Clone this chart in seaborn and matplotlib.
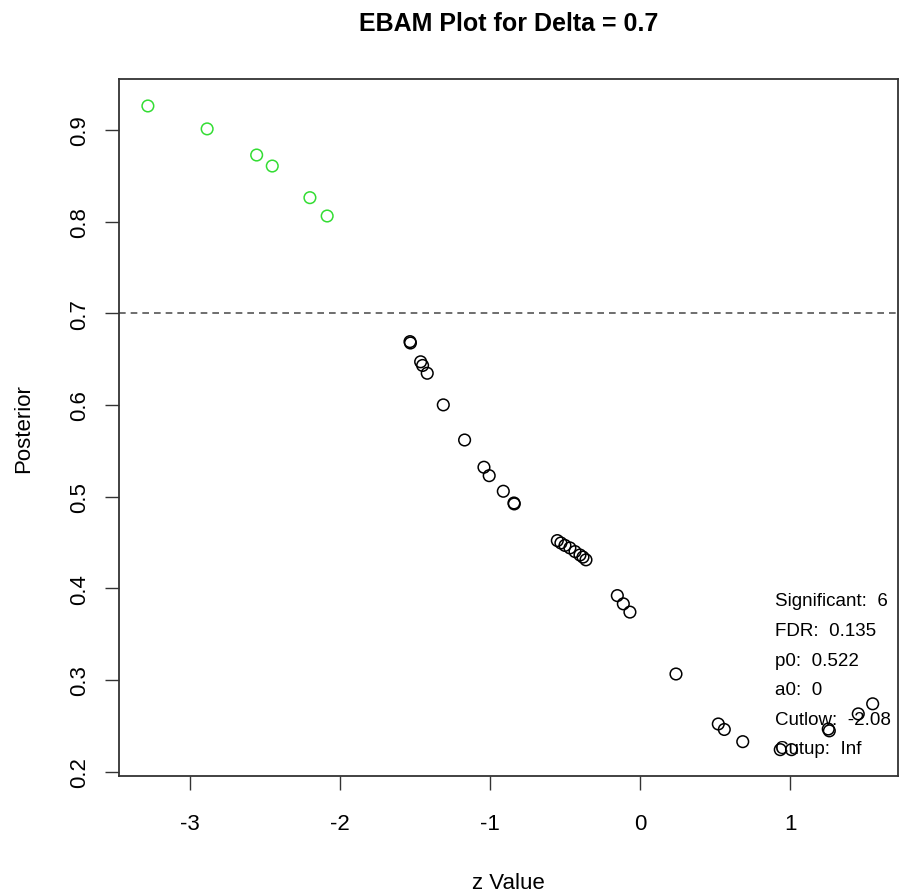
import numpy as np
import pandas as pd
import matplotlib
matplotlib.use("Agg")
import matplotlib.pyplot as plt
import seaborn as sns

# --- data ---
z_values = [-3.28, -2.885, -2.555, -2.451, -2.20, -2.085,
            -1.533, -1.530, -1.462, -1.449, -1.418, -1.311, -1.169, -1.040,
            -1.005, -0.911, -0.840, -0.838,
            -0.551, -0.527, -0.500, -0.467, -0.433, -0.400, -0.380, -0.360,
            -0.151, -0.111, -0.067, 0.240, 0.522, 0.562, 0.685,
            0.935, 1.010, 1.255, 1.262, 1.455, 1.551]
posterior = [0.926, 0.901, 0.8725, 0.8605, 0.826, 0.806,
             0.669, 0.6675, 0.647, 0.643, 0.6345, 0.600, 0.5617, 0.532,
             0.5228, 0.5058, 0.493, 0.492,
             0.452, 0.4494, 0.4467, 0.444, 0.440, 0.4363, 0.434, 0.431,
             0.392, 0.383, 0.374, 0.3065, 0.252, 0.246, 0.2327,
             0.224, 0.224, 0.2465, 0.2445, 0.263, 0.274]
delta = 0.7
info_labels = ["Significant:  6", "FDR:  0.135", "p0:  0.522",
               "a0:  0", "Cutlow:  -2.08", "Cutup:  Inf"]
x_ticks = [-3, -2, -1, 0, 1]
y_ticks = [0.2, 0.3, 0.4, 0.5, 0.6, 0.7, 0.8, 0.9]

df = pd.DataFrame({"z": z_values, "post": posterior})
df["sig"] = np.where(df["post"] > delta, "yes", "no")

sns.set_style("white")
plt.rcParams["font.family"] = ["Liberation Sans", "DejaVu Sans"]
plt.rcParams["text.color"] = "black"
plt.rcParams["axes.labelcolor"] = "black"
plt.rcParams["xtick.labelcolor"] = "black"
plt.rcParams["ytick.labelcolor"] = "black"

fig = plt.figure(figsize=(9.01, 8.95), dpi=100)
ax = fig.add_axes([0.132, 0.1322, 0.8647, 0.7784])

sns.scatterplot(data=df, x="z", y="post", hue="sig",
                palette={"yes": "#33dd33", "no": "black"},
                s=70, linewidth=1.1, legend=False, ax=ax, zorder=3)
# R style open circles
coll = ax.collections[0]
coll.set_edgecolors(coll.get_facecolors())
coll.set_facecolors("none")

ax.axhline(delta, color="#555555", linestyle=(0, (4, 3)), linewidth=1.2)

ax.set_xlim(-3.473, 1.72)
ax.set_ylim(0.1956, 0.9554)
ax.set_xticks(x_ticks)
ax.set_yticks(y_ticks)
ax.set_xticklabels([str(t) for t in x_ticks], fontsize=16)
ax.set_yticklabels([f"{t:g}" for t in y_ticks], fontsize=16, rotation=90, va="center")
ax.tick_params(direction="out", length=10, width=1, color="#333333",
               labelcolor="black", bottom=True, left=True)
ax.tick_params(axis="x", pad=17)
ax.tick_params(axis="y", pad=11)
for sp in ax.spines.values():
    sp.set_color("#333333")
    sp.set_linewidth(1.3)

ax.set_xlabel("z Value", fontsize=16, labelpad=27, color="black")
ax.set_ylabel("Posterior", fontsize=16, labelpad=25, color="black")
ax.set_title("EBAM Plot for Delta = 0.7", fontsize=18, fontweight="bold",
             pad=35, color="black")

for i, lab in enumerate(info_labels):
    ax.text(0.842, 0.2508 - i * 0.0425, lab, transform=ax.transAxes,
            fontsize=13.5, ha="left", va="center", color="black")

fig.savefig("out.png", dpi=100)
